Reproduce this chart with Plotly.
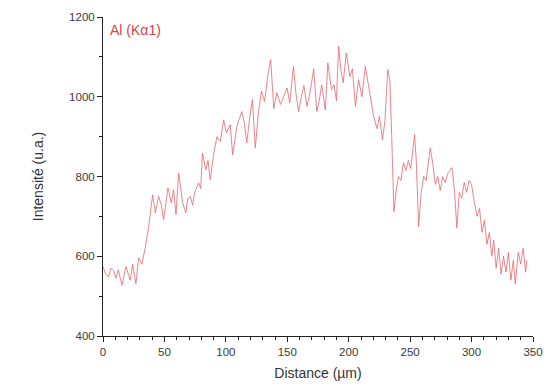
import plotly.graph_objects as go

distance_um = [0, 2, 4.5, 6.5, 8.6, 10.5, 12.5, 15.4, 18.7, 20.5, 22.2, 24.1, 26.8, 29, 31.7, 34.4, 37.1,
               40.4, 42.6, 45.3, 47.5, 49.3, 52.9, 55.6, 57.5, 59.4, 61.6, 64.8, 67.5, 69, 71, 73, 74.5,
               77.8, 79.5, 81, 83.7, 85.5, 87.3, 90, 92.8, 95.5, 98.2, 100.4, 103.6, 105.5, 107.5, 109,
               111, 113, 115, 117, 119.5, 121.6, 124, 126.5, 129, 131.5, 134, 136.5, 139, 141.5, 144.5,
               147, 149.8, 152, 155, 157, 159.2, 161.5, 163.5, 166, 168.5, 171.5, 174, 176, 178, 181,
               183, 186, 188, 190, 191.8, 193.5, 195.5, 198, 201, 203, 205.5, 208, 210.8, 213.5, 215.5,
               217.6, 220.3, 223, 225, 227.5, 229.5, 231.8, 233.5, 235, 236.8, 238.5, 240.5, 242.5,
               244.5, 246.5, 248.5, 250.5, 253.6, 255, 256.9, 259, 261, 263, 266.4, 268.5, 270.5, 272.5,
               274.5, 276.5, 278.5, 281, 284, 286, 288, 290, 292, 294, 296, 298, 300, 302, 304.5, 306.5,
               308.5, 310.5, 312.5, 314.5, 316.5, 318, 320, 322, 324, 326, 328, 330, 332, 334, 335.6,
               338, 340, 342, 344, 345]
intensity_al = [574, 556, 548, 570, 564, 545, 566, 527, 574, 556, 540, 580, 531, 596, 580, 622, 672,
                754, 709, 750, 728, 692, 771, 734, 767, 704, 809, 734, 709, 745, 750, 728, 759,
                784, 770, 859, 817, 840, 792, 855, 900, 888, 942, 909, 930, 854, 900, 926,
                945, 963, 935, 884, 950, 993, 872, 960, 1014, 988, 1050, 1093, 970, 1010, 981,
                1000, 1022, 985, 1076, 1010, 963, 1000, 1028, 976, 1010, 1070, 963, 990, 1030, 967,
                1085, 1018, 1030, 990, 1127, 1070, 1035, 1110, 1050, 1070, 976, 1043, 1000, 1076, 1040,
                1010, 951, 920, 951, 892, 940, 1068, 1040, 900, 712, 760, 800, 790,
                835, 815, 840, 820, 905, 840, 674, 760, 800, 790, 872, 830, 780, 800,
                765, 800, 785, 810, 822, 770, 671, 760, 745, 785, 760, 790, 780, 740, 700, 720,
                660, 690, 630, 660, 600, 640, 570, 620, 555, 600, 560, 610, 540, 590, 530,
                610, 580, 620, 560, 590]

x_ticks = [0, 50, 100, 150, 200, 250, 300, 350]
y_ticks = [400, 600, 800, 1000, 1200]

fig = go.Figure()
fig.add_trace(go.Scatter(x=distance_um, y=intensity_al, mode="lines",
                         line=dict(color="#e6646f", width=0.8), showlegend=False))

axis_font = dict(family="Liberation Sans, Arial, sans-serif", size=11.5, color="#3a3a3a")
title_font = dict(family="Liberation Sans, Arial, sans-serif", size=14, color="#333333")

fig.update_xaxes(range=[0, 350], tickvals=x_ticks, ticks="outside", ticklen=5, tickwidth=1,
                 tickcolor="#222222", showline=True, linecolor="#222222", linewidth=1,
                 showgrid=False, zeroline=False, tickfont=axis_font, automargin=False,
                 minor=dict(dtick=10, tick0=0, ticks="outside", ticklen=3, tickcolor="#222222"),
                 title=dict(text="Distance (µm)", font=title_font, standoff=11))
fig.update_yaxes(range=[400, 1200], tickvals=y_ticks, ticks="outside", ticklen=5, tickwidth=1,
                 tickcolor="#222222", showline=True, linecolor="#222222", linewidth=1,
                 showgrid=False, zeroline=False, tickfont=axis_font, automargin=False,
                 minor=dict(dtick=100, tick0=400, ticks="outside", ticklen=3, tickcolor="#222222"),
                 title=dict(text="Intensité (u.a.)", font=title_font, standoff=22))

fig.add_annotation(text="Al (Kα1)", xref="paper", yref="paper", x=0.012, y=0.96,
                   xanchor="left", yanchor="middle", showarrow=False,
                   font=dict(family="Liberation Sans, Arial, sans-serif", size=14, color="#d9414f"))

fig.update_layout(width=552, height=386, margin=dict(l=103, r=19, t=17, b=50),
                  plot_bgcolor="white", paper_bgcolor="white")

fig.write_html("out.html")
